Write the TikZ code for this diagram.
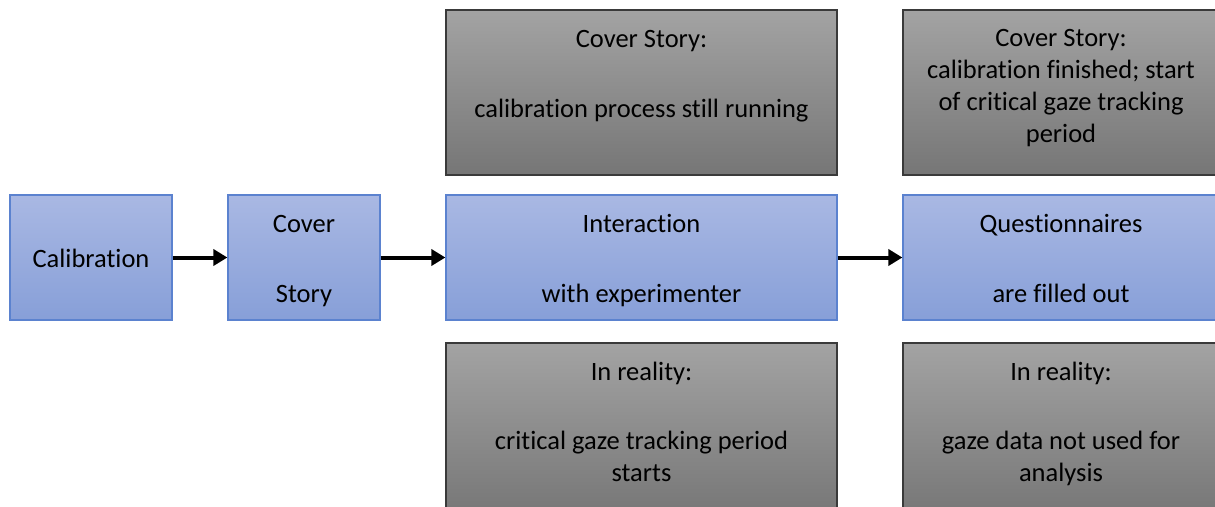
\documentclass[tikz,border=0pt]{standalone}
\usepackage{fontspec}
\setmainfont{Carlito}[Ligatures=NoCommon]
\usetikzlibrary{arrows.meta}
\definecolor{bluetop}{HTML}{A9B8E3}
\definecolor{bluebot}{HTML}{879FD8}
\definecolor{blueedge}{HTML}{5B82CF}
\definecolor{greytop}{HTML}{A3A3A3}
\definecolor{greybot}{HTML}{767676}
\definecolor{greyedge}{HTML}{3A3A3A}
\tikzset{
  bluebox/.style={draw=blueedge, line width=1.2pt, top color=bluetop, bottom color=bluebot, inner sep=0pt},
  greybox/.style={draw=greyedge, line width=1.2pt, top color=greytop, bottom color=greybot, inner sep=0pt},
  txt/.style={align=center, inner sep=0pt, yshift=-2.5pt, font=\fontsize{26.5}{35}\selectfont},
  txtb/.style={align=center, inner sep=0pt, yshift=-2.5pt, font=\fontsize{26.5}{32}\selectfont},
  flow/.style={line width=4pt, -{Triangle[length=14pt,width=16pt]}}
}
\begin{document}
\begin{tikzpicture}[x=1pt,y=-1pt]
\clip (0,0) rectangle (1215,506);
\fill[white] (0,0) rectangle (1215,506);
% blue row
\node[bluebox, minimum width=162pt, minimum height=125pt] (cal) at (91,257.5) {};
\node[bluebox, minimum width=152pt, minimum height=125pt] (cov) at (304,257.5) {};
\node[bluebox, minimum width=391pt, minimum height=125pt] (int) at (641.5,257.5) {};
\node[bluebox, minimum width=316pt, minimum height=125pt] (que) at (1061,257.5) {};
% grey boxes
\node[greybox, minimum width=391pt, minimum height=165pt] (top1) at (641.5,92.5) {};
\node[greybox, minimum width=316pt, minimum height=165pt] (top2) at (1061,92.5) {};
\node[greybox, minimum width=391pt, minimum height=175pt] (bot1) at (641.5,430.5) {};
\node[greybox, minimum width=316pt, minimum height=175pt] (bot2) at (1061,430.5) {};
% texts
\node[txt] (calt) at (cal.center) {\strut Calibration};
\node[txt] (covt) at (cov.center) {\strut Cover\\[35pt]\strut Story};
\node[txt] (intt) at (int.center) {\strut Interaction\\[35pt]\strut with experimenter};
\node[txt] (quet) at (que.center) {\strut Questionnaires\\[35pt]\strut are filled out};
\node[txt] (top1t) at (641.5,73) {\strut Cover Story:\\[35pt]\strut calibration process still running};
\node[txtb] (top2t) at (1061,86) {\strut Cover Story:\\calibration finished; start\\of critical gaze tracking\\\strut period};
\node[txtb] (bot1t) at (641.5,422) {\strut In reality:\\[37pt]critical gaze tracking period\\\strut starts};
\node[txtb] (bot2t) at (1061,422) {\strut In reality:\\[37pt]gaze data not used for\\\strut analysis};
% arrows
\draw[flow] (cal.east) -- (cov.west);
\draw[flow] (cov.east) -- (int.west);
\draw[flow] (int.east) -- (que.west);
\end{tikzpicture}
\end{document}
